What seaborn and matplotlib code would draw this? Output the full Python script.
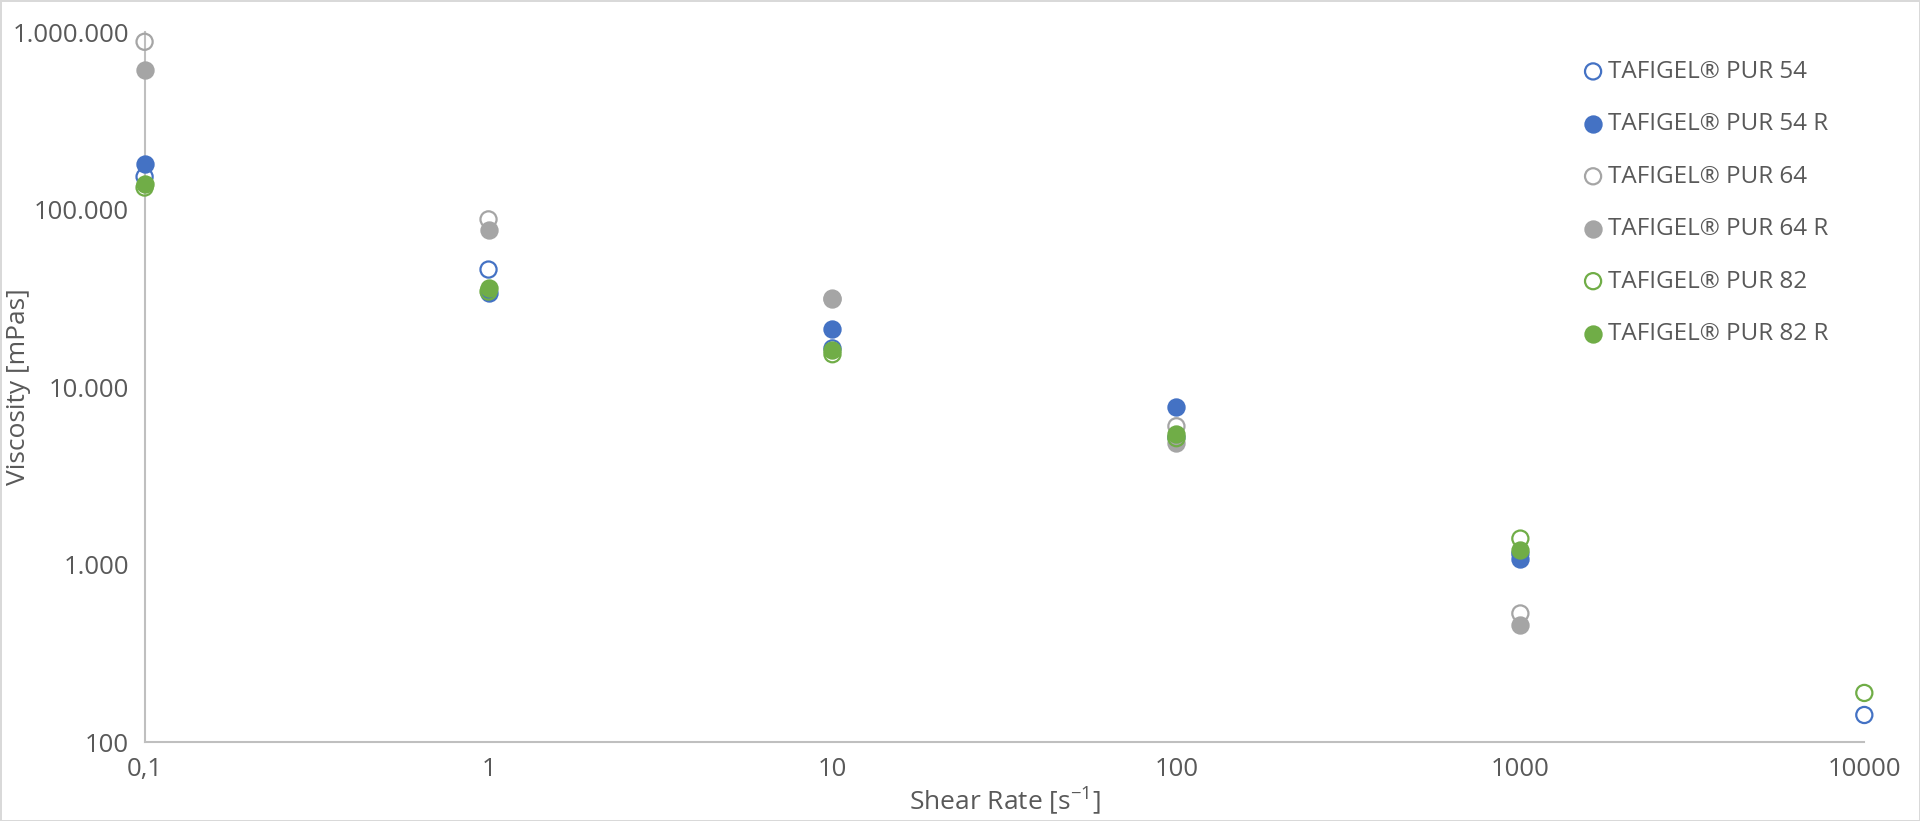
import numpy as np
import pandas as pd
import matplotlib
matplotlib.use("Agg")
import matplotlib.pyplot as plt
import matplotlib.ticker as mticker
import seaborn as sns

# shear rates [1/s]
shear_rate = [0.1, 1, 10, 100, 1000, 10000]

# viscosity [mPas] per product (None = no point)
pur_54 = [153000, 45900, 16500, 5200, 1150, 142]
pur_54_r = [180000, 34000, 21100, 7760, 1070, None]
pur_64 = [881000, 88000, 31500, 6010, 530, None]
pur_64_r = [611000, 76400, 31400, 4820, 459, None]
pur_82 = [133000, 34500, 15300, 5150, 1400, 189]
pur_82_r = [140000, 36200, 16100, 5470, 1210, None]

series_names = ["TAFIGEL® PUR 54", "TAFIGEL® PUR 54 R", "TAFIGEL® PUR 64",
                "TAFIGEL® PUR 64 R", "TAFIGEL® PUR 82", "TAFIGEL® PUR 82 R"]
series_values = [pur_54, pur_54_r, pur_64, pur_64_r, pur_82, pur_82_r]
series_colors = ["#4472C4", "#4472C4", "#A5A5A5", "#A5A5A5", "#70AD47", "#70AD47"]
series_filled = [False, True, False, True, False, True]

sns.set_style("white")
plt.rcParams['font.family'] = ['Open Sans', 'DejaVu Sans']
text_color = "#595959"
axis_color = "#BFBFBF"

fig = plt.figure(figsize=(19.2, 8.21), dpi=100, edgecolor="#D9D9D9", linewidth=2)
ax = fig.add_axes([0.0753, 0.0962, 0.8957, 0.8648])

for name, vals, col, filled in zip(series_names, series_values, series_colors, series_filled):
    df = pd.DataFrame({"x": shear_rate, "y": vals}).dropna()
    sns.scatterplot(data=df, x="x", y="y", ax=ax, s=135, marker="o",
                    facecolor=col if filled else "none", edgecolor=col,
                    linewidth=1.6, label=name, clip_on=False, zorder=3)

ax.set_xscale("log")
ax.set_yscale("log")
ax.set_xlim(0.1, 10000)
ax.set_ylim(100, 1000000)

ax.xaxis.set_major_locator(mticker.FixedLocator(shear_rate))
ax.yaxis.set_major_locator(mticker.FixedLocator([100, 1000, 10000, 100000, 1000000]))
ax.xaxis.set_minor_locator(mticker.NullLocator())
ax.yaxis.set_minor_locator(mticker.NullLocator())
ax.xaxis.set_major_formatter(mticker.FuncFormatter(
    lambda v, p: "0,1" if v < 1 else f"{int(round(v))}"))
ax.yaxis.set_major_formatter(mticker.FuncFormatter(
    lambda v, p: f"{int(round(v)):,}".replace(",", ".")))

for side in ["top", "right"]:
    ax.spines[side].set_visible(False)
for side in ["left", "bottom"]:
    ax.spines[side].set_color(axis_color)
    ax.spines[side].set_linewidth(1.5)
    ax.spines[side].set_zorder(1)

ax.tick_params(axis="both", which="major", direction="out", length=7, width=1.5,
               color=axis_color, labelcolor=text_color, labelsize=18.5, pad=4)

ax.set_xlabel(r"Shear Rate [s$^{\mathregular{-1}}$]", fontsize=19, color=text_color, labelpad=2)
ax.set_ylabel("Viscosity [mPas]", fontsize=19, color=text_color)
ax.yaxis.set_label_coords(-0.066, 0.5)

leg = ax.legend(loc="upper left", bbox_to_anchor=(0.8196, 0.939),
                bbox_transform=fig.transFigure, frameon=False, fontsize=17.5,
                labelspacing=1.17, handlelength=0.8, handletextpad=0.2,
                markerscale=1.0, borderaxespad=0)
for t in leg.get_texts():
    t.set_color(text_color)

fig.savefig("out.png", dpi=100, facecolor="white", edgecolor=fig.get_edgecolor())
